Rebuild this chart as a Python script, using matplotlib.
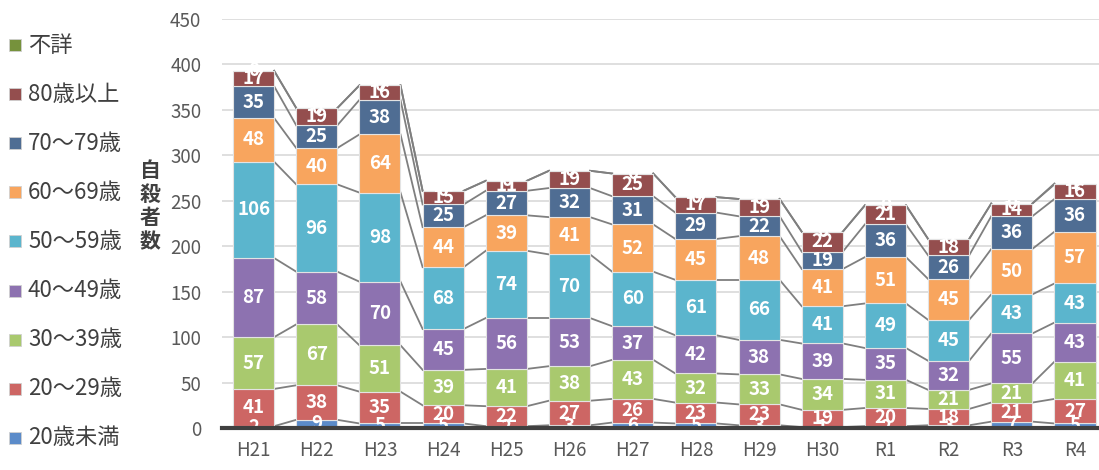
import numpy as np
import matplotlib.pyplot as plt
from matplotlib.patches import Rectangle

plt.rcParams['font.family'] = ['Noto Sans CJK JP', 'DejaVu Sans']

years = ["H21", "H22", "H23", "H24", "H25", "H26", "H27", "H28", "H29", "H30", "R1", "R2", "R3", "R4"]
series_names = ["20歳未満", "20～29歳", "30～39歳", "40～49歳", "50～59歳",
                "60～69歳", "70～79歳", "80歳以上", "不詳"]
u20 = [2, 9, 5, 5, 2, 3, 6, 5, 3, 1, 2, 3, 7, 5]
a20 = [41, 38, 35, 20, 22, 27, 26, 23, 23, 19, 20, 18, 21, 27]
a30 = [57, 67, 51, 39, 41, 38, 43, 32, 33, 34, 31, 21, 21, 41]
a40 = [87, 58, 70, 45, 56, 53, 37, 42, 38, 39, 35, 32, 55, 43]
a50 = [106, 96, 98, 68, 74, 70, 60, 61, 66, 41, 49, 45, 43, 43]
a60 = [48, 40, 64, 44, 39, 41, 52, 45, 48, 41, 51, 45, 50, 57]
a70 = [35, 25, 38, 25, 27, 32, 31, 29, 22, 19, 36, 26, 36, 36]
a80 = [17, 19, 16, 15, 11, 19, 25, 17, 19, 22, 21, 18, 14, 16]
unknown = [0, 0, 0, 0, 0, 0, 0, 0, 0, 0, 0, 0, 0, 1]

colors = ["#5B8BC9", "#CD6664", "#A9C96E", "#8D72B0", "#5BB5CD",
          "#F8A55E", "#4F6D93", "#944E4E", "#76923C"]

data = np.array([u20, a20, a30, a40, a50, a60, a70, a80, unknown], dtype=float)
x = np.arange(len(years))
w = 0.65

fig = plt.figure(figsize=(10.99, 4.70), dpi=100)
ax = fig.add_axes([222 / 1099, 42 / 470, 877 / 1099, 409 / 470])

bottom = np.zeros(len(years))
tops = []
for k in range(len(series_names)):
    ax.bar(x, data[k], w, bottom=bottom, color=colors[k], edgecolor="#E3E3E3",
           linewidth=0.8, zorder=3)
    for i in range(len(years)):
        ax.text(x[i], bottom[i] + data[k][i] / 2, str(int(data[k][i])), ha="center",
                va="center", color="white", fontsize=13.5, fontweight="bold", zorder=5)
    bottom = bottom + data[k]
    tops.append(bottom.copy())

# series lines
for top in tops:
    for i in range(len(years) - 1):
        ax.plot([x[i] + w / 2, x[i + 1] - w / 2], [top[i], top[i + 1]],
                color="#7F7F7F", linewidth=1.3, zorder=2)

ax.set_ylim(0, 450)
ax.set_xlim(-0.5, 13.38)
ax.set_yticks(np.arange(0, 451, 50))
ax.yaxis.grid(True, color="#D9D9D9", linewidth=1.2, zorder=0)
ax.set_axisbelow(True)
ax.set_xticks(x)
ax.set_xticklabels(years)
ax.tick_params(axis="both", length=0, labelsize=13.5, colors="#595959", pad=9)
ax.tick_params(axis="y", pad=15)
for s in ["top", "right", "left"]:
    ax.spines[s].set_visible(False)
ax.spines["bottom"].set_color("#404040")
ax.spines["bottom"].set_linewidth(3)
ax.spines["bottom"].set_zorder(6)

fig.text(150 / 1099, 1 - 206 / 470, "自\n殺\n者\n数", ha="center", va="center",
         fontsize=15, fontweight="bold", color="#404040", linespacing=1.15)

# legend (top: 不詳 ... bottom: 20歳未満)
for j, k in enumerate(range(len(series_names) - 1, -1, -1)):
    yc = 45 + j * 49.1
    fig.patches.append(Rectangle((9 / 1099, 1 - (yc + 6) / 470), 12 / 1099, 12 / 470,
                                 transform=fig.transFigure, facecolor=colors[k],
                                 edgecolor="#D0D0D0", linewidth=0.6))
    fig.text(28 / 1099, 1 - yc / 470, series_names[k], ha="left", va="center",
             fontsize=16, color="#404040")

fig.savefig("out.png", dpi=100)
